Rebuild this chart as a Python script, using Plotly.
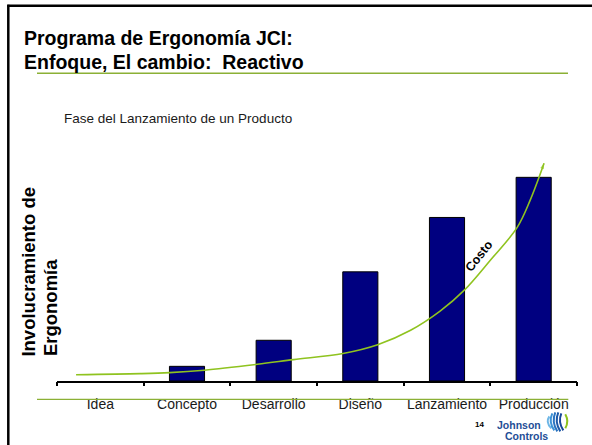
import plotly.graph_objects as go
import numpy as np

# ---------------- data ----------------
categories = ["Idea", "Concepto", "Desarrollo", "Diseño", "Lanzamiento", "Producción"]
involvement = [None, 0.72, 2.0, 5.36, 8.03, 10.0]

# cost curve (x in category-index units, y in bar units)
cost_x = [-0.28, 0.46, 0.80, 1.20, 1.81, 2.23, 2.80, 3.20, 3.58, 3.92, 4.20, 4.50, 4.81, 4.96, 5.12]
cost_y = [0.31, 0.36, 0.41, 0.53, 0.82, 1.05, 1.35, 1.78, 2.49, 3.43, 4.46, 5.93, 7.54, 8.88, 10.69]

title_lines = ["Programa de Ergonomía JCI:", "Enfoque, El cambio:  Reactivo"]
subtitle = "Fase del Lanzamiento de un Producto"
ytitle_lines = ["Involucramiento de", "Ergonomía"]
curve_label = "Costo"
page_no = "14"
logo_lines = ["Johnson", "Controls"]

# ---------------- geometry helpers ----------------
W, H = 592, 445
PL, PR, PT, PB = 56.7, 576.7, 150.0, 380.7
Y_MAX = (PB - PT) / 20.34


def fx(p):
    return (p - PL) / (PR - PL)


def fy(p):
    return (PB - p) / (PB - PT)


FONT = "Liberation Sans, Arial, sans-serif"
TXT = "#1a1a1a"
GREEN_RULE = "#8bb035"
GREEN_CURVE = "#8fc31f"

n = len(categories)
bounds = list(np.arange(n + 1) - 0.5)

fig = go.Figure()

fig.add_trace(go.Bar(
    x=categories, y=involvement, width=0.405,
    marker=dict(color="#000080", line=dict(color="#000000", width=1)),
    xaxis="x", yaxis="y", showlegend=False, hoverinfo="skip",
))

fig.add_trace(go.Scatter(
    x=cost_x, y=cost_y, mode="lines+markers",
    line=dict(color=GREEN_CURVE, width=1.6, shape="spline", smoothing=1),
    marker=dict(symbol="arrow", angleref="previous",
                size=[0] * (len(cost_x) - 1) + [6], color=GREEN_CURVE,
                line=dict(width=0)),
    xaxis="x2", yaxis="y", showlegend=False, hoverinfo="skip",
))

rng = [-0.5, n - 0.5]
fig.update_layout(
    width=W, height=H,
    margin=dict(l=PL, r=W - PR, t=PT, b=H - PB, pad=0),
    paper_bgcolor="white", plot_bgcolor="white",
    xaxis=dict(type="category", range=rng, showgrid=False, zeroline=False,
               showline=True, linecolor="black", linewidth=2.2,
               ticks="", tickfont=dict(family=FONT, size=14, color=TXT),
               ticklabelstandoff=9, fixedrange=True),
    xaxis2=dict(type="linear", range=rng, overlaying="x", anchor="y", side="bottom",
                showgrid=False, zeroline=False, showline=False,
                tickmode="array", tickvals=bounds, ticks="outside", ticklen=4,
                tickwidth=1.6, tickcolor="black", showticklabels=False, fixedrange=True),
    xaxis3=dict(type="linear", range=rng, overlaying="x", anchor="y", side="bottom",
                showgrid=False, zeroline=False, showline=False,
                tickmode="array", tickvals=bounds, ticks="inside", ticklen=4,
                tickwidth=1.6, tickcolor="black", showticklabels=False, fixedrange=True),
    yaxis=dict(range=[0, Y_MAX], visible=False, fixedrange=True),
    bargap=0.6,
)

ann = []
# title
ann.append(dict(text=title_lines[0], x=fx(21.5), y=fy(38), xref="paper", yref="paper",
                xanchor="left", yanchor="middle", showarrow=False,
                font=dict(family=FONT, size=19.5, color="black", weight="bold")))
ann.append(dict(text=title_lines[1], x=fx(21.5), y=fy(62), xref="paper", yref="paper",
                xanchor="left", yanchor="middle", showarrow=False,
                font=dict(family=FONT, size=19.5, color="black", weight="bold")))
# subtitle
ann.append(dict(text=subtitle, x=fx(62), y=fy(119), xref="paper", yref="paper",
                xanchor="left", yanchor="middle", showarrow=False,
                font=dict(family=FONT, size=13.5, color=TXT)))
# y title
ann.append(dict(text=ytitle_lines[0], x=fx(28), y=fy(358), xref="paper", yref="paper",
                xanchor="center", yanchor="bottom", textangle=-90, showarrow=False,
                font=dict(family=FONT, size=18.5, color="black", weight="bold")))
ann.append(dict(text=ytitle_lines[1], x=fx(50), y=fy(358), xref="paper", yref="paper",
                xanchor="center", yanchor="bottom", textangle=-90, showarrow=False,
                font=dict(family=FONT, size=18.5, color="black", weight="bold")))
# curve label
ann.append(dict(text=curve_label, x=4.37, y=6.15, xref="x2", yref="y",
                xanchor="center", yanchor="middle", textangle=-52, showarrow=False,
                font=dict(family=FONT, size=12.5, color="black", weight="bold")))
# page number and logo text
ann.append(dict(text=page_no, x=fx(479.5), y=fy(424.5), xref="paper", yref="paper",
                xanchor="center", yanchor="middle", showarrow=False,
                font=dict(family=FONT, size=8, color="black", weight="bold")))
ann.append(dict(text=logo_lines[0], x=fx(518.5), y=fy(425), xref="paper", yref="paper",
                xanchor="center", yanchor="middle", showarrow=False,
                font=dict(family=FONT, size=10.5, color="#1f4e96", weight="bold")))
ann.append(dict(text=logo_lines[1], x=fx(526), y=fy(435.5), xref="paper", yref="paper",
                xanchor="center", yanchor="middle", showarrow=False,
                font=dict(family=FONT, size=10.5, color="#1f4e96", weight="bold")))
fig.update_layout(annotations=ann)

shapes = []
# frame
shapes.append(dict(type="line", xref="paper", yref="paper", x0=fx(8), x1=fx(8), y0=fy(5), y1=fy(450),
                   line=dict(color="black", width=2.5)))
shapes.append(dict(type="line", xref="paper", yref="paper", x0=fx(7), x1=fx(600), y0=fy(6), y1=fy(6),
                   line=dict(color="black", width=2.5)))
# green rules
shapes.append(dict(type="line", xref="paper", yref="paper", x0=fx(36.7), x1=fx(567.7), y0=fy(73.3), y1=fy(73.3),
                   line=dict(color=GREEN_RULE, width=1.5)))
shapes.append(dict(type="line", xref="paper", yref="paper", x0=fx(36.7), x1=fx(568), y0=fy(399), y1=fy(399),
                   line=dict(color=GREEN_RULE, width=1.3)))


# logo icon: curved stripes
def arc(x_top, x_mid, x_bot, y_top, y_bot):
    return "M {:.5f} {:.5f} Q {:.5f} {:.5f} {:.5f} {:.5f}".format(
        fx(x_top), fy(y_top), fx(x_mid), fy((y_top + y_bot) / 2), fx(x_bot), fy(y_bot))


stripes = [
    (549, 545, 551, 416, 428, "#6fb7e6"),
    (552, 548, 554, 413, 430, "#3d93d6"),
    (555, 551, 557, 412, 431, "#2a74c0"),
    (558, 554, 560, 412, 431, "#1c5aa8"),
    (561, 557.5, 563, 413, 430, "#17479a"),
    (565, 569, 565, 414, 428, "#8fc31f"),
]
for xt, xm, xb, yt, yb, col in stripes:
    shapes.append(dict(type="path", xref="paper", yref="paper", path=arc(xt, xm, xb, yt, yb),
                       line=dict(color=col, width=2)))
fig.update_layout(shapes=shapes)

fig.write_html("out.html", config={"displayModeBar": False},
               post_script="document.body.style.margin='0';document.body.style.overflow='hidden';")
